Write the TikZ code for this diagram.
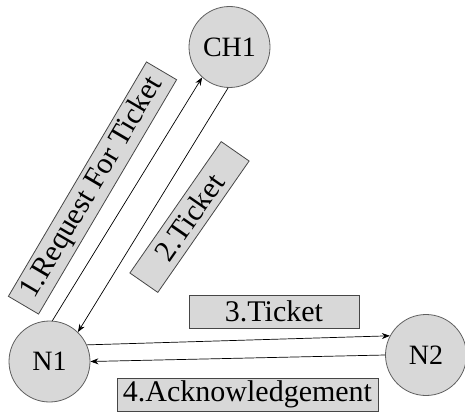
\documentclass[tikz,border=0pt]{standalone}
\usepackage{fontspec}
\setmainfont{Liberation Serif}
\usetikzlibrary{arrows.meta}
\definecolor{boxfill}{RGB}{216,216,216}
\definecolor{circedge}{RGB}{95,95,95}
\definecolor{boxedge}{RGB}{70,70,70}
\begin{document}
\begin{tikzpicture}[x=1pt,y=-1pt,
  nodecirc/.style={circle, draw=circedge, fill=boxfill, line width=0.8pt, minimum size=81pt, inner sep=0pt, font=\fontsize{28}{28}\selectfont},
  lbl/.style={draw=boxedge, fill=boxfill, line width=0.8pt, inner sep=0pt, font=\fontsize{30}{30}\selectfont},
  conn/.style={draw=black, line width=0.7pt, -{Stealth[length=8pt,width=6pt]}}]
\useasboundingbox (0,0) rectangle (465,412);
\node[nodecirc] (ch1) at (229.5,47) {CH1};
\node[nodecirc] (n1) at (49.5,361.5) {N1};
\node[nodecirc] (n2) at (426,355) {N2};
\node[lbl, minimum width=272pt, minimum height=35pt, rotate=59.5] (b1) at (92.5,188) {1.Request For Ticket};
\node[lbl, minimum width=160pt, minimum height=34pt, rotate=55.2] (b2) at (189.5,217) {2.Ticket};
\node[lbl, minimum width=170pt, minimum height=33pt] (b3) at (274,311.5) {3.Ticket};
\node[lbl, minimum width=261pt, minimum height=33pt] (b4) at (247.5,394.5) {4.Acknowledgement};
\draw[conn] (n1.86) -- (ch1.228);
\draw[conn] (ch1.268) -- (n1.46);
\draw[conn] (n1.24) -- (n2.152);
\draw[conn] (n2.180) -- (n1.0);
\end{tikzpicture}
\end{document}
